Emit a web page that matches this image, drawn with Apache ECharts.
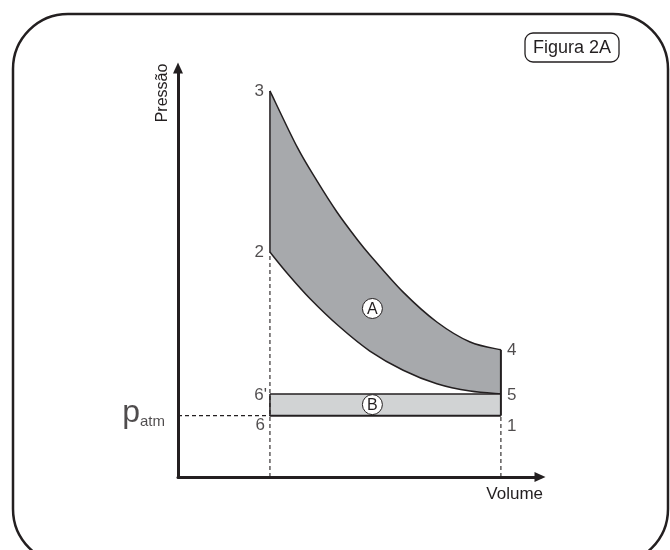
<!DOCTYPE html>
<html><head><meta charset="utf-8">
<script src="https://cdn.jsdelivr.net/npm/echarts@6/dist/echarts.min.js"></script>
<style>html,body{margin:0;padding:0;background:#fff}#c{width:670px;height:550px}</style>
</head><body><div id="c"></div>
<script>
// ---- data (volume V, pressure p; arbitrary units 0..10) ----
const upperV = [2.54, 3.29, 3.84, 4.39, 4.94, 5.30, 6.22, 7.15, 8.07, 8.92];   // curve 3 -> 4
const upperP = [9.44, 8.07, 7.24, 6.48, 5.82, 5.43, 4.52, 3.79, 3.30, 3.11];
const lowerV = [2.54, 3.01, 3.65, 4.48, 5.30, 6.22, 7.15, 8.07, 8.92];         // curve 2 -> 5
const lowerP = [5.50, 4.99, 4.36, 3.66, 3.08, 2.61, 2.28, 2.10, 2.03];
const stateNames = ['1', '2', '3', '4', '5', '6', "6'"];
const stateV = [8.92, 2.54, 2.54, 8.92, 8.92, 2.54, 2.54];
const stateP = [1.50, 5.50, 9.44, 3.11, 2.03, 1.50, 2.03];
const regionNames = ['A', 'B'];
const regionV = [5.37, 5.37];
const regionP = [4.12, 1.77];
const pAtm = 1.50;
const axisMax = 10;

// ---- helpers ----
const st = {};
stateNames.forEach((n, i) => st[n] = [stateV[i], stateP[i]]);
const zip = (a, b) => a.map((v, i) => [v, b[i]]);
const INK = '#231f20';
const FONT = 'Liberation Sans, Arial, sans-serif';

const labelPlacement = {
  '1': { position: 'right', distance: 6, offset: [0, 11] },
  '2': { position: 'left', distance: 6, offset: [0, 0] },
  '3': { position: 'left', distance: 6, offset: [0, 0] },
  '4': { position: 'right', distance: 6, offset: [0, 1] },
  '5': { position: 'right', distance: 6, offset: [0, 1] },
  '6': { position: 'left', distance: 5, offset: [0, 10] },
  "6'": { position: 'left', distance: 3, offset: [0, 1] }
};

// Catmull-Rom spline through pixel points -> cubic bezier path commands
function spline(pts) {
  let d = '';
  for (let i = 0; i < pts.length - 1; i++) {
    const p0 = pts[i - 1] || pts[i], p1 = pts[i], p2 = pts[i + 1], p3 = pts[i + 2] || p2;
    const c1 = [p1[0] + (p2[0] - p0[0]) / 6, p1[1] + (p2[1] - p0[1]) / 6];
    const c2 = [p2[0] - (p3[0] - p1[0]) / 6, p2[1] - (p3[1] - p1[1]) / 6];
    d += ' C' + c1[0] + ',' + c1[1] + ' ' + c2[0] + ',' + c2[1] + ' ' + p2[0] + ',' + p2[1];
  }
  return d;
}

function renderA(params, api) {
  const up = zip(upperV, upperP).map(p => api.coord(p));
  const lo = zip(lowerV, lowerP).map(p => api.coord(p));
  const loR = lo.slice().reverse();
  const fillPath = 'M' + up[0][0] + ',' + up[0][1] + spline(up) +
    ' L' + loR[0][0] + ',' + loR[0][1] + spline(loR) + ' Z';
  const upPath = 'M' + up[0][0] + ',' + up[0][1] + spline(up);
  const loPath = 'M' + lo[0][0] + ',' + lo[0][1] + spline(lo);
  return {
    type: 'group',
    children: [
      { type: 'path', shape: { pathData: fillPath }, style: { fill: '#a7a9ac', stroke: null } },
      { type: 'path', shape: { pathData: upPath }, style: { fill: null, stroke: INK, lineWidth: 1.5 } },
      { type: 'path', shape: { pathData: loPath }, style: { fill: null, stroke: INK, lineWidth: 1.5 } }
    ]
  };
}

function seg(name, pts, width, dashed, z) {
  return {
    type: 'line', name, data: pts, symbol: 'none', silent: true, z: z || 5,
    lineStyle: { color: INK, width, type: dashed ? [4, 3] : 'solid', cap: 'butt' }
  };
}

const series = [
  {
    type: 'custom', name: 'A', coordinateSystem: 'cartesian2d', silent: true, z: 2,
    renderItem: renderA, data: [[upperV[0], upperP[0]]]
  },
  {
    type: 'line', name: 'B', data: [st["6'"], st['5']], symbol: 'none', z: 4, silent: true,
    lineStyle: { color: INK, width: 1.5 },
    areaStyle: { color: '#d1d3d4', opacity: 1, origin: pAtm }
  },
  seg('p_atm', [[0, pAtm], st['6']], 1.1, true, 4),
  seg('v2dash', [[st['2'][0], 0], st['2']], 1.1, true, 4),
  seg('v1dash', [[st['1'][0], 0], st['1']], 1.1, true, 4),
  seg('6-1', [st['6'], st['1']], 2, false, 6),
  seg('1-4', [st['1'], st['4']], 2, false, 6),
  seg('6-6p', [st['6'], st["6'"]], 1.5, false, 6),
  seg('2-3', [st['2'], st['3']], 1.5, false, 6),
  {
    type: 'scatter', name: 'states', symbolSize: 0, silent: true, z: 10,
    itemStyle: { color: 'transparent' },
    data: stateNames.map((n, i) => ({
      name: n, value: [stateV[i], stateP[i]],
      label: Object.assign({ show: true, formatter: '{b}', color: INK, fontSize: 17, fontFamily: FONT }, labelPlacement[n])
    }))
  },
  {
    type: 'scatter', name: 'regions', symbolSize: 20, silent: true, z: 10,
    itemStyle: { color: '#ffffff', borderColor: INK, borderWidth: 1, opacity: 1 },
    label: { show: true, position: 'inside', formatter: '{b}', color: INK, fontSize: 16, fontFamily: FONT, offset: [0, 1] },
    data: regionNames.map((n, i) => ({ name: n, value: [regionV[i], regionP[i]] }))
  },
  {
    type: 'scatter', name: 'patm', symbolSize: 0, silent: true, z: 10,
    itemStyle: { color: 'transparent' },
    data: [{ name: 'patm', value: [0, pAtm] }],
    label: {
      show: true, position: 'left', distance: 13, offset: [0, -2],
      formatter: '{p|p}{s|atm}',
      rich: {
        p: { fontSize: 32, fontFamily: FONT, color: INK, verticalAlign: 'bottom', lineHeight: 32 },
        s: { fontSize: 15, fontFamily: FONT, color: INK, verticalAlign: 'bottom', lineHeight: 22 }
      }
    }
  }
];

const axisCommon = {
  type: 'value', min: 0, max: axisMax,
  axisLine: { show: true, onZero: false, symbol: ['none', 'triangle'], symbolSize: [10, 11], lineStyle: { color: INK, width: 3 } },
  axisTick: { show: false }, axisLabel: { show: false }, splitLine: { show: false }
};

const chart = echarts.init(document.getElementById('c'), null, { renderer: 'canvas' });
chart.setOption({
  animation: false,
  backgroundColor: '#ffffff',
  grid: { left: 178, top: 68, width: 362, height: 409, containLabel: false, outerBoundsMode: 'none' },
  xAxis: axisCommon,
  yAxis: axisCommon,
  series,
  graphic: [
    { type: 'rect', silent: true, shape: { x: 13, y: 14, width: 655, height: 550, r: 55 },
      style: { fill: 'none', stroke: INK, lineWidth: 2.5 }, z: 100 },
    { type: 'rect', silent: true, shape: { x: 525, y: 33, width: 94, height: 29, r: 8 },
      style: { fill: '#fff', stroke: INK, lineWidth: 1.3 }, z: 100 },
    { type: 'text', silent: true, x: 572, y: 48, z: 101,
      style: { text: 'Figura 2A', fill: INK, fontSize: 18, fontFamily: FONT, align: 'center', verticalAlign: 'middle' } },
    { type: 'text', silent: true, x: 163, y: 93, rotation: Math.PI / 2, z: 101,
      style: { text: 'Pressão', fill: INK, fontSize: 16, fontFamily: FONT, align: 'center', verticalAlign: 'middle' } },
    { type: 'text', silent: true, x: 543, y: 494, z: 101,
      style: { text: 'Volume', fill: INK, fontSize: 17, fontFamily: FONT, align: 'right', verticalAlign: 'middle' } }
  ]
});
</script>
</body></html>
